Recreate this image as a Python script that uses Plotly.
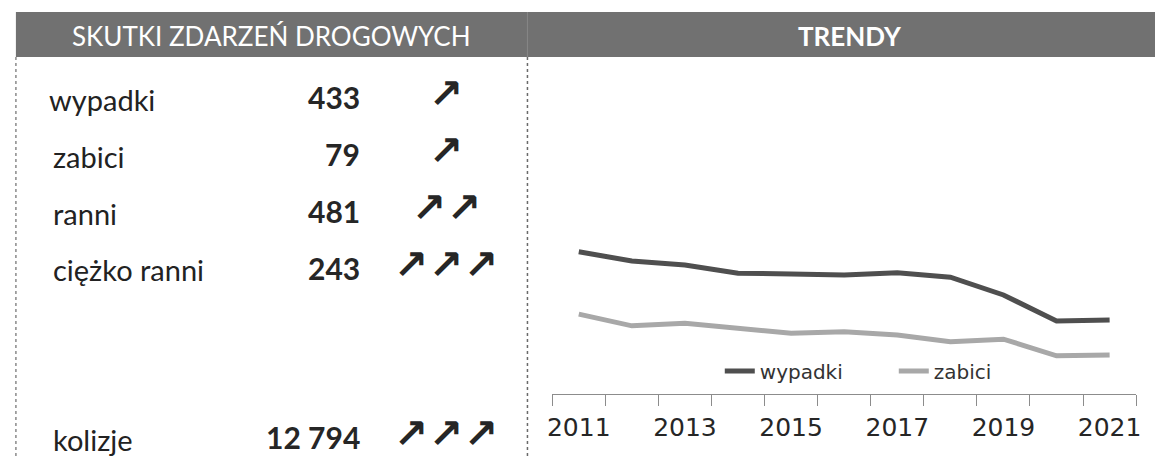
import plotly.graph_objects as go

# ---- data -------------------------------------------------------------
years = [2011, 2012, 2013, 2014, 2015, 2016, 2017, 2018, 2019, 2020, 2021]
wypadki = [706, 669, 653, 620, 617, 613, 622, 604, 533, 429, 433]
zabici = [128, 114, 117, 111, 105, 107, 103, 95, 98, 78, 79]
year_labels = [2011, 2013, 2015, 2017, 2019, 2021]

row_names = ["wypadki", "zabici", "ranni", "ciężko ranni", "kolizje"]
row_values = [433, 79, 481, 243, 12794]
row_arrows = [1, 1, 2, 3, 3]

title_left = "SKUTKI ZDARZEŃ DROGOWYCH"
title_right = "TRENDY"

# ---- page geometry (pixels) --------------------------------------------
W, H = 1160, 458


def px(x):
    return x / W


def py(y):
    return (H - y) / H


row_y = [97, 154, 211, 268, 437]
label_x = [42, 46, 46, 46, 46]
arrow_pitch = 35
arrow_center = 445
arrow_size = 41

fig = go.Figure()

fig.add_trace(go.Scatter(
    x=years, y=wypadki, name="wypadki", mode="lines",
    line=dict(color="#4f4f4f", width=5), yaxis="y",
))
fig.add_trace(go.Scatter(
    x=years, y=zabici, name="zabici", mode="lines",
    line=dict(color="#a8a8a8", width=5), yaxis="y2",
))

shapes = [
    # header bar
    dict(type="rect", xref="paper", yref="paper", x0=px(11), x1=1.0,
         y0=py(57), y1=py(12), fillcolor="#717171", line=dict(width=0),
         layer="below"),
    dict(type="line", xref="paper", yref="paper", x0=px(527), x1=px(527),
         y0=py(57), y1=py(12), line=dict(color="#868686", width=1)),
    # panel borders
    dict(type="line", xref="paper", yref="paper", x0=px(11), x1=px(11),
         y0=py(57), y1=0, line=dict(color="#8a8a8a", width=1.5, dash="dot")),
    dict(type="line", xref="paper", yref="paper", x0=px(527), x1=px(527),
         y0=py(57), y1=0, line=dict(color="#6a6a6a", width=1.5, dash="dot")),
]

annotations = [
    dict(text=title_left, x=px(269), y=py(36), xref="paper", yref="paper",
         showarrow=False, xanchor="center", yanchor="middle",
         font=dict(family="Lato", size=26, color="white")),
    dict(text="<b>" + title_right + "</b>", x=px(852), y=py(36),
         xref="paper", yref="paper", showarrow=False, xanchor="center",
         yanchor="middle", font=dict(family="Lato", size=26, color="white")),
]

for i, (name, val, n_arr) in enumerate(zip(row_names, row_values, row_arrows)):
    y = row_y[i]
    annotations.append(dict(
        text=name, x=px(label_x[i]), y=py(y + 2), xref="paper",
        yref="paper", showarrow=False, xanchor="left", yanchor="middle",
        font=dict(family="Lato", size=29, color="#222222")))
    annotations.append(dict(
        text="<b>" + f"{val:,}".replace(",", " ") + "</b>", x=px(360),
        y=py(y), xref="paper", yref="paper", showarrow=False,
        xanchor="right", yanchor="middle",
        font=dict(family="Lato", size=30, color="#262626")))
    # trend arrows, one glyph each, centred as a group
    first = arrow_center - (n_arr - 1) * arrow_pitch / 2
    for k in range(n_arr):
        annotations.append(dict(
            text="<b>↗</b>", x=px(first + k * arrow_pitch), y=py(y - 3),
            xref="paper", yref="paper", showarrow=False, xanchor="center",
            yanchor="middle",
            font=dict(family="DejaVu Sans", size=arrow_size,
                      color="#262626")))

fig.update_layout(
    width=W, height=H,
    margin=dict(l=0, r=0, t=0, b=0),
    paper_bgcolor="white", plot_bgcolor="white",
    showlegend=True,
    legend=dict(orientation="h", x=px(721), y=py(371), xanchor="left",
                yanchor="middle", bgcolor="rgba(0,0,0,0)",
                entrywidth=129, entrywidthmode="pixels",
                font=dict(family="DejaVu Sans", size=20, color="#333333")),
    xaxis=dict(
        domain=[px(552), px(1141)], range=[2010.5, 2021.5],
        tickvals=year_labels, ticktext=[str(v) for v in year_labels],
        ticks="outside", ticklen=11, tickcolor="rgba(0,0,0,0)",
        showline=True, linecolor="#8c8c8c", linewidth=1,
        showgrid=False, zeroline=False, fixedrange=True,
        tickfont=dict(family="DejaVu Sans", size=25, color="#262626"),
        minor=dict(tick0=2010.5, dtick=1, ticks="outside", ticklen=11,
                   tickcolor="#8c8c8c", tickwidth=1, showgrid=False),
    ),
    yaxis=dict(domain=[py(394), py(240)], range=[137, 753], visible=False,
               fixedrange=True),
    yaxis2=dict(overlaying="y", range=[32.2, 217], visible=False,
                fixedrange=True),
    shapes=shapes,
    annotations=annotations,
)

fig.write_html("out.html")
